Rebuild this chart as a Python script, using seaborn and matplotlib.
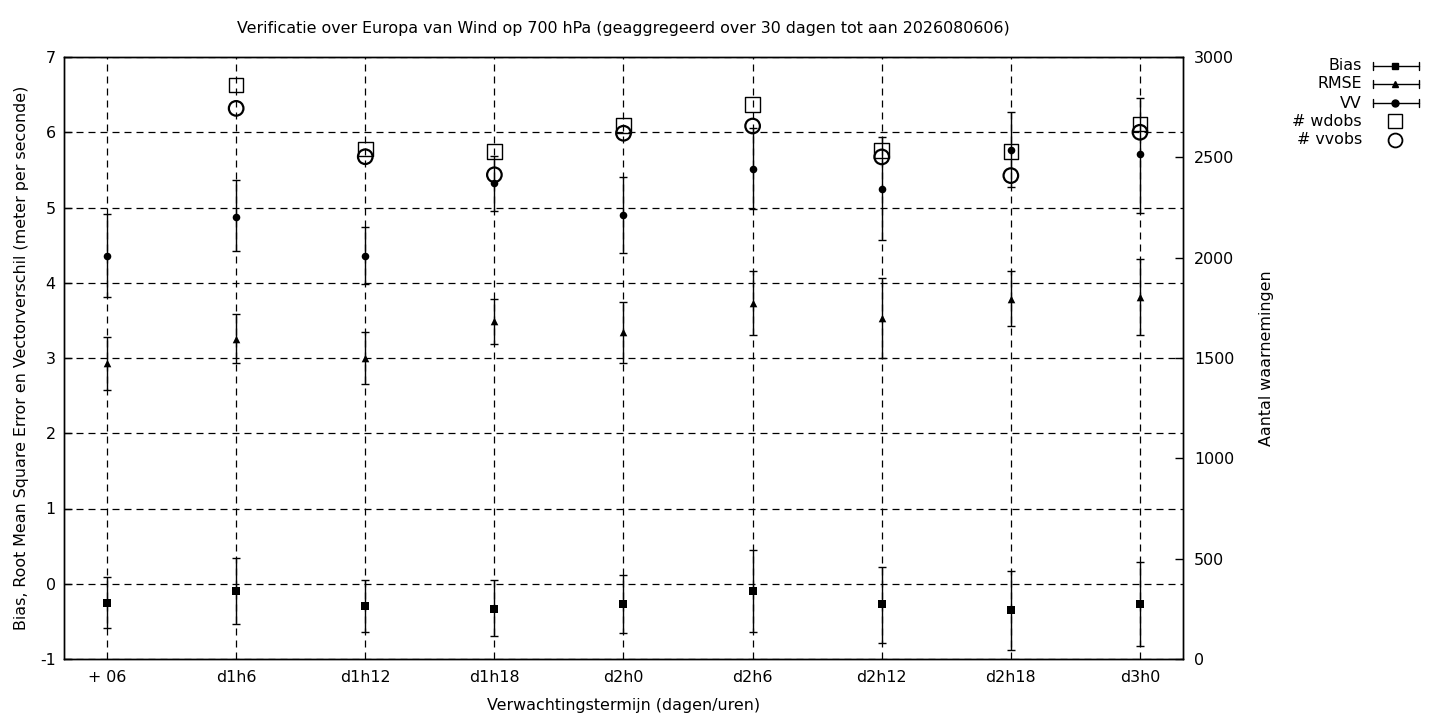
import numpy as np
import pandas as pd
import matplotlib
matplotlib.use("Agg")
import matplotlib.pyplot as plt
from matplotlib.lines import Line2D
import seaborn as sns

# ---- data ----
labels = ["+ 06", "d1h6", "d1h12", "d1h18", "d2h0", "d2h6", "d2h12", "d2h18", "d3h0"]

bias = [-0.26, -0.10, -0.30, -0.33, -0.27, -0.10, -0.27, -0.35, -0.27]
bias_lo = [-0.59, -0.535, -0.645, -0.70, -0.66, -0.64, -0.79, -0.88, -0.83]
bias_hi = [0.086, 0.34, 0.046, 0.046, 0.11, 0.45, 0.22, 0.165, 0.285]

rmse = [2.93, 3.25, 3.00, 3.49, 3.35, 3.73, 3.53, 3.79, 3.81]
rmse_lo = [2.57, 2.93, 2.65, 3.18, 2.93, 3.31, 3.00, 3.43, 3.30]
rmse_hi = [3.275, 3.58, 3.34, 3.79, 3.75, 4.15, 4.06, 4.15, 4.31]

vv = [4.36, 4.88, 4.36, 5.32, 4.90, 5.51, 5.25, 5.76, 5.71]
vv_lo = [3.81, 4.42, 3.98, 4.95, 4.39, 4.98, 4.57, 5.27, 4.93]
vv_hi = [4.92, 5.36, 4.74, 5.69, 5.40, 6.05, 5.94, 6.27, 6.46]

wdobs = [np.nan, 2860, 2541, 2530, 2659, 2764, 2535, 2530, 2666]
vvobs = [np.nan, 2744, 2503, 2413, 2620, 2656, 2502, 2409, 2625]

title = "Verificatie over Europa van Wind op 700 hPa (geaggregeerd over 30 dagen tot aan 2026080606)"
xlabel = "Verwachtingstermijn (dagen/uren)"
ylabel = "Bias, Root Mean Square Error en Vectorverschil (meter per seconde)"
y2label = "Aantal waarnemingen"

# ---- style ----
sns.set_theme(style="white")
plt.rcParams["font.family"] = ["DejaVu Sans"]
plt.rcParams["font.size"] = 11.4
plt.rcParams["text.color"] = "black"
plt.rcParams["axes.labelcolor"] = "black"
plt.rcParams["xtick.color"] = "black"
plt.rcParams["ytick.color"] = "black"

FS = 11.4
fig = plt.figure(figsize=(14.4, 7.2), dpi=100)
ax = fig.add_axes([64 / 1440, 1 - 659 / 720, (1183 - 64) / 1440, (659 - 57) / 720])
ax2 = ax.twinx()

x = np.arange(len(labels))
df = pd.DataFrame({"x": x, "bias": bias, "rmse": rmse, "vv": vv,
                   "wdobs": wdobs, "vvobs": vvobs})

# error bars
for vals, lo, hi in [(bias, bias_lo, bias_hi), (rmse, rmse_lo, rmse_hi), (vv, vv_lo, vv_hi)]:
    ax.vlines(x, lo, hi, color="black", lw=1.0, zorder=3)
    ax.scatter(x, lo, marker="_", s=40, color="black", lw=1.0, zorder=3)
    ax.scatter(x, hi, marker="_", s=40, color="black", lw=1.0, zorder=3)

sns.scatterplot(data=df, x="x", y="bias", marker="s", s=30, color="black",
                edgecolor="black", linewidth=0, ax=ax, zorder=4)
sns.scatterplot(data=df, x="x", y="rmse", marker="^", s=30, color="black",
                edgecolor="black", linewidth=0, ax=ax, zorder=4)
sns.scatterplot(data=df, x="x", y="vv", marker="o", s=30, color="black",
                edgecolor="black", linewidth=0, ax=ax, zorder=4)

sns.scatterplot(data=df, x="x", y="wdobs", marker="s", s=110, facecolor="none",
                edgecolor="black", linewidth=1.0, ax=ax2, zorder=4)
sns.scatterplot(data=df, x="x", y="vvobs", marker="o", s=110, facecolor="none",
                edgecolor="black", linewidth=1.6, ax=ax2, zorder=4)

# axes
ax.set_xlim(-1 / 3, len(labels) - 1 + 1 / 3)
ax.set_ylim(-1, 7)
ax2.set_ylim(0, 3000)
ax.set_xticks(x)
ax.set_xticklabels(labels)
ax.set_yticks(range(-1, 8))
ax.set_yticklabels([str(v) for v in range(-1, 8)])
ax2.set_yticks(range(0, 3001, 500))

ax.grid(True, linestyle=(0, (5.6, 4)), color="black", lw=0.9)
for a in (ax, ax2):
    for s in a.spines.values():
        s.set_color("black")
        s.set_linewidth(1.0)
ax.tick_params(axis="both", direction="in", length=6, width=1, colors="black",
               labelsize=FS, pad=8)
ax.tick_params(axis="y", pad=6)
ax2.tick_params(axis="y", direction="in", length=6, width=1, colors="black",
                labelsize=FS, pad=8)
ax.tick_params(axis="x", length=0)
ax.set_xlabel(xlabel, fontsize=FS, labelpad=9, color="black")
ax.set_ylabel(ylabel, fontsize=FS, labelpad=8, color="black")
ax2.set_ylabel(y2label, fontsize=FS, labelpad=18, color="black")
ax.set_title(title, fontsize=FS, pad=17, color="black")

# legend (gnuplot style, drawn in figure pixel coords)
leg = [("Bias", "s", True), ("RMSE", "^", True), ("VV", "o", True),
       ("# wdobs", "s", False), ("# vvobs", "o", False)]
ys = [66, 84, 103, 121, 140]
W, H = 1440, 720
for (lab, mk, eb), yp in zip(leg, ys):
    fy = 1 - yp / H
    fig.text(1362 / W, fy, lab, ha="right", va="center", fontsize=FS, color="black")
    if eb:
        fig.add_artist(Line2D([1373 / W, 1419 / W], [fy, fy], color="black", lw=1.0))
        for xe in (1373, 1419):
            fig.add_artist(Line2D([xe / W, xe / W], [fy - 4 / H, fy + 4 / H], color="black", lw=1.0))
        fig.add_artist(Line2D([1395 / W], [fy], marker=mk, color="black", ms=5, lw=0))
    else:
        fig.add_artist(Line2D([1395 / W], [fy], marker=mk, markerfacecolor="none",
                              markeredgecolor="black", ms=10, mew=1.3 if mk == "o" else 1.0, lw=0))

fig.savefig("out.png", dpi=100)
